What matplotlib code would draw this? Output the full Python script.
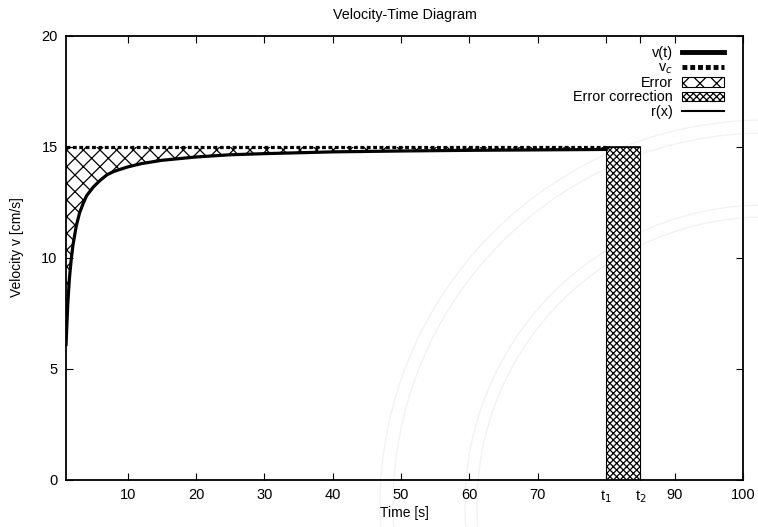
import matplotlib
matplotlib.use("Agg")
import matplotlib.pyplot as plt
from matplotlib.patches import Circle, Patch
from matplotlib.lines import Line2D

plt.rcParams['font.family'] = ['Liberation Sans', 'DejaVu Sans']
plt.rcParams['hatch.linewidth'] = 0.9

# values
t_vals = [1, 1.25, 1.5, 1.75, 2, 2.5, 3, 3.5, 4, 5, 6, 7, 8, 10, 12, 15,
          20, 25, 30, 40, 50, 60, 70, 80]
v_vals = [6.1, 7.9, 9.1, 9.9, 10.55, 11.45, 12.05, 12.45, 12.8, 13.2, 13.5,
          13.75, 13.9, 14.1, 14.25, 14.4, 14.55, 14.65, 14.7, 14.78, 14.82,
          14.85, 14.87, 14.89]
v_c = 15.0
t1, t2 = 80, 85
xtick_pos = [10, 20, 30, 40, 50, 60, 70, t1, t2, 90, 100]
xtick_lab = ['10', '20', '30', '40', '50', '60', '70', 't$_1$', 't$_2$', '90', '100']
ytick_pos = [0, 5, 10, 15, 20]

fig = plt.figure(figsize=(7.58, 5.27), dpi=100)

# faint seal-like watermark in the background
for r in [3.85, 3.72, 3.0, 2.88]:
    fig.patches.append(Circle((7.65, 0.22), r, transform=fig.dpi_scale_trans,
                              fill=False, edgecolor='#f3f3f3', lw=1.0, zorder=-5))

ax = fig.add_axes([0.0871, 0.0892, 0.9802 - 0.0871, 0.9317 - 0.0892])
ax.patch.set_alpha(0)

# error area between curve and v_c
ax.fill_between(t_vals, v_vals, v_c, facecolor='none', edgecolor='black',
                hatch='xx', lw=0)
# error correction box
ax.bar([t1], [v_c], width=t2 - t1, align='edge', facecolor='white',
       edgecolor='black', hatch='xxxxx', lw=0.8)

ax.plot(t_vals, v_vals, color='black', lw=2.3, zorder=4)
ax.plot([t_vals[0], t1], [v_c, v_c], color='black', lw=2.3,
        linestyle=(0, (1.2, 0.8)), zorder=4)
ax.plot([t1, t2], [v_c, v_c], color='black', lw=1.2, zorder=4)

ax.set_xlim(1, 100)
ax.set_ylim(0, 20)
ax.set_xticks(xtick_pos)
ax.set_xticklabels(xtick_lab)
ax.set_yticks(ytick_pos)
ax.tick_params(direction='in', top=True, right=True, length=5, width=0.8,
               labelsize=10.5, pad=6)
for s in ax.spines.values():
    s.set_linewidth(1.3)

ax.set_title('Velocity-Time Diagram', fontsize=10.3, pad=12)
ax.set_xlabel('Time [s]', fontsize=10, labelpad=1)
ax.set_ylabel('Velocity v [cm/s]', fontsize=10)
ax.yaxis.set_label_coords(-0.062, 0.525)

handles = [
    Line2D([], [], color='black', lw=3.5),
    Line2D([], [], color='black', lw=3.5, linestyle=(0, (1.0, 0.6))),
    Patch(facecolor='white', edgecolor='black', hatch='xx', lw=0.8),
    Patch(facecolor='white', edgecolor='black', hatch='xxxxx', lw=0.8),
    Line2D([], [], color='black', lw=1.5),
]
labels = ['v(t)', 'v$_c$', 'Error', 'Error correction', 'r(x)']
leg = ax.legend(handles, labels, loc='upper right',
                bbox_to_anchor=(0.987, 1.0), markerfirst=False, frameon=False,
                fontsize=10.4, handlelength=2.9, handleheight=0.6,
                labelspacing=0.02, borderaxespad=0.3, handletextpad=0.65)
for txt in leg.get_texts():
    txt.set_ha('right')

fig.savefig('out.png', dpi=100)
